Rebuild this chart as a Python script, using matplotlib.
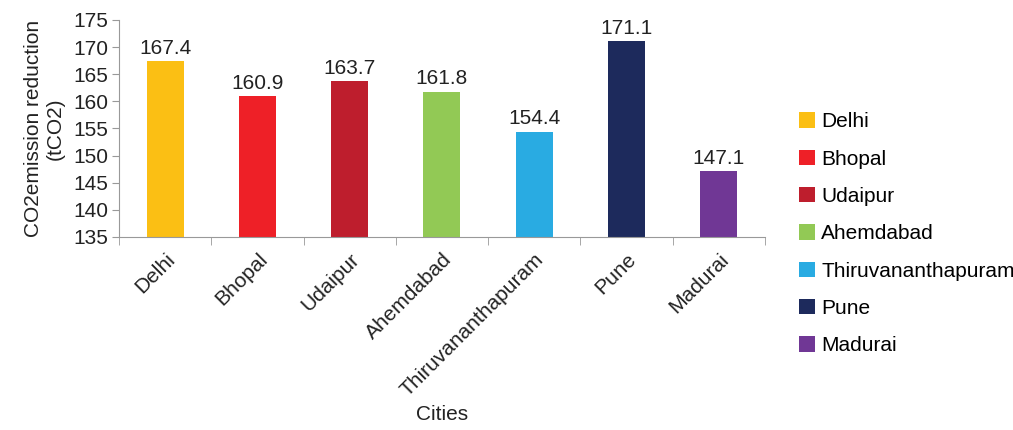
import numpy as np
import matplotlib.pyplot as plt
from matplotlib.patches import Patch

plt.rcParams['font.family'] = ['Liberation Sans', 'DejaVu Sans']

cities = ["Delhi", "Bhopal", "Udaipur", "Ahemdabad", "Thiruvananthapuram", "Pune", "Madurai"]
reduction = [167.4, 160.9, 163.7, 161.8, 154.4, 171.1, 147.1]
colores = ["#FBBF14", "#EE2027", "#BE1E2D", "#92C955", "#29ABE2", "#1D2A5C", "#703795"]

fs = 15

fig = plt.figure(figsize=(10.13, 4.3), dpi=100)
ax = fig.add_axes([0.1175, 0.449, 0.6375, 0.5045])

x = np.arange(len(cities))
bars = ax.bar(x, reduction, width=0.4, color=colores, zorder=2)

for xi, v in zip(x, reduction):
    ax.text(xi, v + 0.6, f"{v:.1f}", ha='center', va='bottom', fontsize=fs, color='#222222')

ax.set_ylim(135, 175)
ax.set_xlim(-0.5, len(cities) - 0.5)
ax.set_yticks(np.arange(135, 176, 5))
ax.tick_params(axis='y', labelsize=fs, length=5, color='#999999', labelcolor='#222222', pad=3)

ax.set_xticks(x)
ax.set_xticklabels(cities, rotation=45, ha='right', rotation_mode='anchor', fontsize=fs, color='#222222')
ax.tick_params(axis='x', which='major', length=0, pad=9)
ax.set_xticks(np.arange(-0.5, len(cities), 1), minor=True)
ax.tick_params(axis='x', which='minor', length=6, color='#999999')

ax.spines['top'].set_visible(False)
ax.spines['right'].set_visible(False)
ax.spines['left'].set_color('#999999')
ax.spines['bottom'].set_color('#999999')

ax.set_xlabel("Cities", fontsize=fs, color='#222222', labelpad=4)
ax.set_ylabel("CO2emission reduction\n(tCO2)", fontsize=fs, color='#222222', labelpad=6)

handles = [Patch(facecolor=c, label=n) for c, n in zip(colores, cities)]
fig.legend(handles=handles, loc='upper left', bbox_to_anchor=(0.781, 0.758),
           frameon=False, fontsize=fs, handlelength=0.75, handleheight=0.75,
           handletextpad=0.3, labelspacing=0.88, borderaxespad=0)

fig.savefig("out.png", dpi=100)
